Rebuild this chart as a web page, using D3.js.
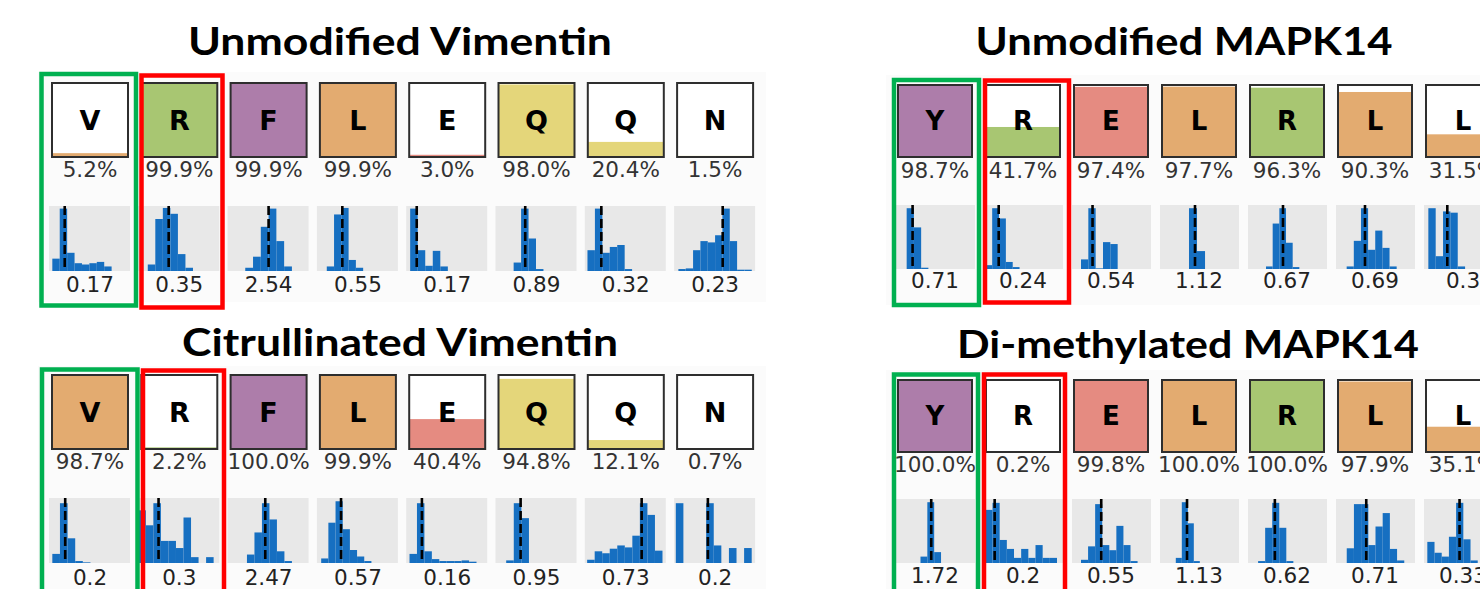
<!DOCTYPE html>
<html>
<head>
<meta charset="utf-8">
<script src="https://cdn.jsdelivr.net/npm/d3@7"></script>
<style>
  body { margin: 0; background: #fff; }
  svg { display: block; }
</style>
</head>
<body>
<svg id="chart" width="1480" height="589"></svg>
<script>
// ---- data ----
const vimResidues = ['V', 'R', 'F', 'L', 'E', 'Q', 'Q', 'N'];
const vimUnmodPct = [5.2, 99.9, 99.9, 99.9, 3.0, 98.0, 20.4, 1.5];
const vimCitPct = [98.7, 2.2, 100.0, 99.9, 40.4, 94.8, 12.1, 0.7];
const vimUnmodScore = [0.17, 0.35, 2.54, 0.55, 0.17, 0.89, 0.32, 0.23];
const vimCitScore = [0.2, 0.3, 2.47, 0.57, 0.16, 0.95, 0.73, 0.2];

const mapkResidues = ['Y', 'R', 'E', 'L', 'R', 'L', 'L'];
const mapkUnmodPct = [98.7, 41.7, 97.4, 97.7, 96.3, 90.3, 31.5];
const mapkMethPct = [100.0, 0.2, 99.8, 100.0, 100.0, 97.9, 35.1];
const mapkUnmodScore = [0.71, 0.24, 0.54, 1.12, 0.67, 0.69, 0.3];
const mapkMethScore = [1.72, 0.2, 0.55, 1.13, 0.62, 0.71, 0.33];

// histograms: bins between lo and hi on a 0..1 axis, relative counts, dashed median
const vimUnmodHist = [
  { lo: 0.041, hi: 0.773, med: 0.194, counts: [0.19, 0.96, 0.28, 0.12, 0.10, 0.12, 0.14, 0.07] },
  { lo: 0.117, hi: 0.675, med: 0.375, counts: [0.10, 0.80, 0.97, 0.88, 0.26, 0.05] },
  { lo: 0.218, hi: 0.794, med: 0.506, counts: [0.05, 0.22, 0.68, 0.96, 0.46, 0.07] },
  { lo: 0.122, hi: 0.571, med: 0.314, counts: [0.07, 0.87, 0.97, 0.17, 0.05] },
  { lo: 0.049, hi: 0.514, med: 0.13, counts: [0.96, 0.32, 0.08, 0.31, 0.07] },
  { lo: 0.224, hi: 0.592, med: 0.367, counts: [0.13, 0.96, 0.50, 0.03] },
  { lo: 0.033, hi: 0.584, med: 0.204, counts: [0.32, 0.96, 0.28, 0.37, 0.40, 0.03] },
  { lo: 0.053, hi: 0.959, med: 0.60, counts: [0.03, 0.04, 0.32, 0.46, 0.44, 0.55, 0.96, 0.46, 0.02, 0.02] }
];
const vimCitHist = [
  { lo: 0.041, hi: 0.512, med: 0.2, counts: [0.14, 0.92, 0.38, 0.03, 0.01] },
  { lo: 0.0, hi: 0.93, med: 0.25, counts: [0.81, 0.58, 0.92, 0.34, 0.34, 0.23, 0.70, 0.09, 0, 0.09] },
  { lo: 0.239, hi: 0.794, med: 0.465, counts: [0.13, 0.47, 0.92, 0.67, 0.18, 0.03] },
  { lo: 0.053, hi: 0.673, med: 0.298, counts: [0.07, 0.62, 0.95, 0.52, 0.20, 0.10, 0.03] },
  { lo: 0.041, hi: 0.868, med: 0.194, counts: [0.14, 0.92, 0.18, 0.06, 0.03, 0.03, 0.03, 0.04, 0.02] },
  { lo: 0.132, hi: 0.413, med: 0.31, counts: [0.04, 0.92, 0.69] },
  { lo: 0.029, hi: 0.959, med: 0.702, counts: [0.05, 0.18, 0.15, 0.22, 0.27, 0.24, 0.42, 0.92, 0.74, 0.19] },
  { lo: 0.021, hi: 0.958, med: 0.417, counts: [0.92, 0, 0, 0, 0.92, 0.27, 0, 0.23, 0, 0.23] }
];
const mapkUnmodHist = [
  { lo: 0.135, hi: 0.41, med: 0.21, counts: [0.95, 0.65, 0.02] },
  { lo: 0.017, hi: 0.45, med: 0.186, counts: [0.06, 0.95, 0.79, 0.11, 0.03] },
  { lo: 0.114, hi: 0.578, med: 0.26, counts: [0.15, 0.95, 0.01, 0.42, 0.39] },
  { lo: 0.367, hi: 0.57, med: 0.443, counts: [0.95, 0.28] },
  { lo: 0.228, hi: 0.65, med: 0.443, counts: [0.04, 0.71, 0.95, 0.41, 0.03] },
  { lo: 0.135, hi: 0.768, med: 0.367, counts: [0.04, 0.44, 0.95, 0.30, 0.60, 0.33, 0.04] },
  { lo: 0.055, hi: 0.52, med: 0.295, counts: [0.95, 0.20, 0.90, 0.88, 0.04] }
];
const mapkMethHist = [
  { lo: 0.31, hi: 0.57, med: 0.446, counts: [0.10, 0.95, 0.17] },
  { lo: 0.017, hi: 0.924, med: 0.135, counts: [0.83, 0.94, 0.36, 0.22, 0.08, 0.22, 0.08, 0.28, 0.08, 0.08] },
  { lo: 0.114, hi: 0.83, med: 0.37, counts: [0.05, 0.26, 0.92, 0.28, 0.20, 0.58, 0.28, 0.03] },
  { lo: 0.2, hi: 0.504, med: 0.342, counts: [0.08, 0.95, 0.62, 0.03] },
  { lo: 0.128, hi: 0.574, med: 0.34, counts: [0.03, 0.55, 0.94, 0.55, 0.03] },
  { lo: 0.136, hi: 0.864, med: 0.383, counts: [0.23, 0.92, 0.92, 0.28, 0.57, 0.78, 0.22, 0.04] },
  { lo: 0.042, hi: 0.68, med: 0.45, counts: [0.33, 0.16, 0.10, 0.41, 0.94, 0.37, 0.04] }
];

const residueColor = {
  V: '#e3ab70', L: '#e3ab70',
  R: '#a8c672',
  F: '#ad7daa', Y: '#ad7daa',
  E: '#e58b81',
  Q: '#e4d67a', N: '#e4d67a'
};

// ---- layout ----
const svg = d3.select('#chart');
const pctFmt = d => d3.format('.1f')(d) + '%';

const rows = [
  { title: 'Unmodified Vimentin', tx: 400, ty: 55, tw: 424,
    residues: vimResidues, pct: vimUnmodPct, scores: vimUnmodScore, hists: vimUnmodHist,
    x0: 52, step: 89.3, boxW: 76, boxTop: 83, boxH: 74, letterSize: 27, pctY: 177,
    histPad: 3, histTop: 206, histH: 65, valY: 292,
    bg: [38, 72, 728, 230],
    green: [41.5, 74, 94.5, 231.5], red: [141.5, 75.5, 81, 232] },
  { title: 'Citrullinated Vimentin', tx: 400, ty: 356, tw: 436,
    residues: vimResidues, pct: vimCitPct, scores: vimCitScore, hists: vimCitHist,
    x0: 52, step: 89.3, boxW: 76, boxTop: 375, boxH: 74, letterSize: 27, pctY: 469,
    histPad: 3, histTop: 498, histH: 65, valY: 585,
    bg: [38, 366, 728, 223],
    green: [42, 369.5, 95.5, 240], red: [143, 370.5, 81, 240] },
  { title: 'Unmodified MAPK14', tx: 1184, ty: 55, tw: 417,
    residues: mapkResidues, pct: mapkUnmodPct, scores: mapkUnmodScore, hists: mapkUnmodHist,
    x0: 898, step: 88, boxW: 74, boxTop: 85, boxH: 72, letterSize: 26, pctY: 178,
    histPad: 2, histTop: 205, histH: 64, valY: 288,
    bg: [886, 75, 594, 230],
    green: [894, 80, 85, 225], red: [985, 80.5, 84, 222] },
  { title: 'Di-methylated MAPK14', tx: 1188, ty: 358, tw: 462,
    residues: mapkResidues, pct: mapkMethPct, scores: mapkMethScore, hists: mapkMethHist,
    x0: 898, step: 88, boxW: 74, boxTop: 380, boxH: 72, letterSize: 26, pctY: 472,
    histPad: 2, histTop: 499, histH: 64, valY: 583,
    bg: [886, 370, 594, 219],
    green: [894, 374.5, 84, 240], red: [984, 374.5, 81, 240] }
];

function drawRow(p) {
  const g = svg.append('g');

  // faint figure background behind the matplotlib grid
  g.append('rect')
    .attr('x', p.bg[0]).attr('y', p.bg[1])
    .attr('width', p.bg[2]).attr('height', p.bg[3])
    .attr('fill', '#fbfbfb');

  g.append('text')
    .attr('x', p.tx).attr('y', p.ty)
    .attr('text-anchor', 'middle')
    .attr('textLength', p.tw)
    .attr('lengthAdjust', 'spacingAndGlyphs')
    .style('font-family', 'Lato, "Open Sans", sans-serif')
    .style('font-weight', 'bold')
    .style('font-size', '38px')
    .attr('fill', '#000')
    .text(p.title);

  const n = p.residues.length;
  const x = d3.scaleBand()
    .domain(d3.range(n))
    .range([p.x0, p.x0 + p.step * n - (p.step - p.boxW)])
    .paddingInner((p.step - p.boxW) / p.step)
    .paddingOuter(0);
  const bw = x.bandwidth();

  const yPct = d3.scaleLinear().domain([0, 100]).range([p.boxTop + p.boxH, p.boxTop]);

  const cells = g.selectAll('g.cell')
    .data(p.residues.map((r, i) => ({ r, i, pct: p.pct[i], score: p.scores[i], hist: p.hists[i] })))
    .join('g')
    .attr('class', 'cell');

  // residue box: white with fraction filled from the bottom
  cells.append('rect')
    .attr('x', d => x(d.i)).attr('y', p.boxTop)
    .attr('width', bw).attr('height', p.boxH)
    .attr('fill', '#fff');
  cells.append('rect')
    .attr('x', d => x(d.i)).attr('y', d => yPct(d.pct))
    .attr('width', bw).attr('height', d => yPct(0) - yPct(d.pct))
    .attr('fill', d => residueColor[d.r]);
  cells.append('rect')
    .attr('x', d => x(d.i)).attr('y', p.boxTop)
    .attr('width', bw).attr('height', p.boxH)
    .attr('fill', 'none')
    .attr('stroke', '#2e2e2e')
    .attr('stroke-width', 2);
  cells.append('text')
    .attr('x', d => x(d.i) + bw / 2)
    .attr('y', p.boxTop + p.boxH / 2)
    .attr('dy', '0.36em')
    .attr('text-anchor', 'middle')
    .style('font-family', '"DejaVu Sans", sans-serif')
    .style('font-weight', 'bold')
    .style('font-size', p.letterSize + 'px')
    .attr('fill', '#000')
    .text(d => d.r);

  cells.append('text')
    .attr('x', d => x(d.i) + bw / 2)
    .attr('y', p.pctY)
    .attr('text-anchor', 'middle')
    .style('font-family', '"DejaVu Sans", sans-serif')
    .style('font-size', '21.5px')
    .attr('fill', '#333')
    .text(d => pctFmt(d.pct));

  // histograms
  cells.each(function (d) {
    const c = d3.select(this);
    const hx = d3.scaleLinear().domain([0, 1]).range([x(d.i) - p.histPad, x(d.i) - p.histPad + bw + 5]);
    const hy = d3.scaleLinear().domain([0, 1]).range([p.histTop + p.histH, p.histTop]);
    const h = d.hist;
    const binW = (h.hi - h.lo) / h.counts.length;

    c.append('rect')
      .attr('x', hx(0)).attr('y', hy(1))
      .attr('width', hx(1) - hx(0)).attr('height', hy(0) - hy(1))
      .attr('fill', '#e8e8e8');

    c.selectAll('rect.bar')
      .data(h.counts)
      .join('rect')
      .attr('class', 'bar')
      .attr('x', (v, k) => hx(h.lo + k * binW))
      .attr('width', hx(binW) - hx(0))
      .attr('y', v => hy(v))
      .attr('height', v => hy(0) - hy(v))
      .attr('fill', '#166fc1');

    c.append('line')
      .attr('x1', hx(h.med)).attr('x2', hx(h.med))
      .attr('y1', hy(1)).attr('y2', hy(0))
      .attr('stroke', '#000')
      .attr('stroke-width', 2.6)
      .attr('stroke-dasharray', '9,4');
  });

  cells.append('text')
    .attr('x', d => x(d.i) + bw / 2)
    .attr('y', p.valY)
    .attr('text-anchor', 'middle')
    .style('font-family', '"DejaVu Sans", sans-serif')
    .style('font-size', '21.5px')
    .attr('fill', '#222')
    .text(d => String(d.score));

  // highlight frames around the first two positions
  g.append('rect')
    .attr('x', p.green[0]).attr('y', p.green[1])
    .attr('width', p.green[2]).attr('height', p.green[3])
    .attr('fill', 'none').attr('stroke', '#00b050').attr('stroke-width', 4.5);
  g.append('rect')
    .attr('x', p.red[0]).attr('y', p.red[1])
    .attr('width', p.red[2]).attr('height', p.red[3])
    .attr('fill', 'none').attr('stroke', '#ff0000').attr('stroke-width', 4.5);
}

rows.forEach(drawRow);
</script>
</body>
</html>
